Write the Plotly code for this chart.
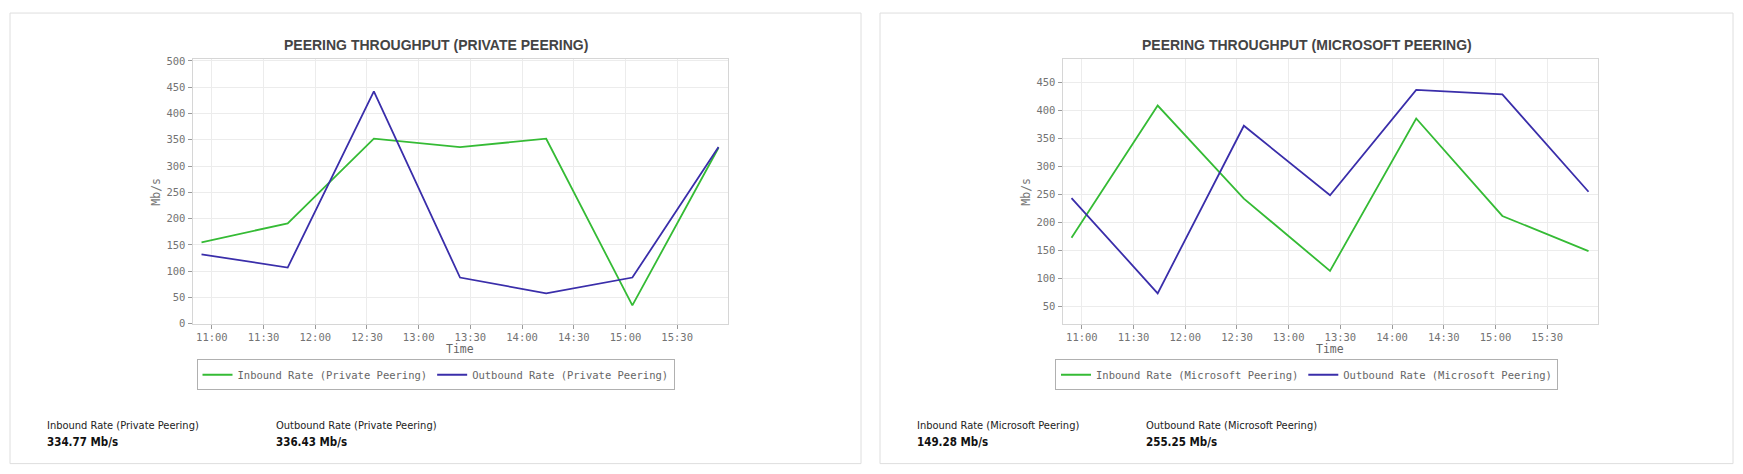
import plotly.graph_objects as go

# ---------------- data ----------------
times = ["2024-01-01 10:54", "2024-01-01 11:44", "2024-01-01 12:34", "2024-01-01 13:24",
         "2024-01-01 14:14", "2024-01-01 15:04", "2024-01-01 15:54"]

private_inbound = [155, 191, 352, 336, 352, 35, 334.77]
private_outbound = [132, 107, 442, 88, 58, 88, 336.43]

microsoft_inbound = [173, 409, 243, 114, 386, 212, 149.28]
microsoft_outbound = [244, 74, 373, 249, 437, 429, 255.25]

titles = ["PEERING THROUGHPUT (PRIVATE PEERING)", "PEERING THROUGHPUT (MICROSOFT PEERING)"]
series_names = [
    ["Inbound Rate (Private Peering)", "Outbound Rate (Private Peering)"],
    ["Inbound Rate (Microsoft Peering)", "Outbound Rate (Microsoft Peering)"],
]
current_values = [["334.77 Mb/s", "336.43 Mb/s"], ["149.28 Mb/s", "255.25 Mb/s"]]
y_ranges = [[0, 504.2], [19.6, 492.6]]
x_range = ["2024-01-01 10:48:46", "2024-01-01 15:59:40"]

# ---------------- styling ----------------
W, H = 1743, 474
GREEN = "#35bb35"
BLUE = "#3a2eaa"
MONO = "DejaVu Sans Mono"
SANS = "Liberation Sans"
NARROW = "Liberation Sans Narrow, DejaVu Sans Condensed, Arial Narrow, Liberation Sans"

# vertical calibration of the photographed page (measured from earlier renders)
Y_OFF, Y_SCALE = 4.0, 0.9755


def fx(px):
    return px / W


def fy(py):
    return 1 - ((py - Y_OFF) / Y_SCALE) / H


fig = go.Figure()

panels = [
    dict(left=10, right=861, plot_l=192.5, plot_r=728.3, xa="x", ya="y", lg="legend",
         ins=private_inbound, outs=private_outbound),
    dict(left=880, right=1733, plot_l=1062.5, plot_r=1598.3, xa="x2", ya="y2", lg="legend2",
         ins=microsoft_inbound, outs=microsoft_outbound),
]

plot_top, plot_bot = 58.5, 322.7
shapes = []
annotations = []

for i, p in enumerate(panels):
    names = series_names[i]
    fig.add_trace(go.Scatter(x=times, y=p["ins"], mode="lines", name=names[0],
                             line=dict(color=GREEN, width=1.8), xaxis=p["xa"], yaxis=p["ya"],
                             legend=p["lg"]))
    fig.add_trace(go.Scatter(x=times, y=p["outs"], mode="lines", name=names[1],
                             line=dict(color=BLUE, width=1.8), xaxis=p["xa"], yaxis=p["ya"],
                             legend=p["lg"]))

    suffix = "" if i == 0 else str(i + 1)
    axis_common = dict(
        showgrid=True, gridcolor="#ececec", gridwidth=1,
        showline=True, linecolor="#d6d6d6", linewidth=1, mirror=True,
        ticks="outside", ticklen=4, tickcolor="#9a9a9a",
        tickfont=dict(family=MONO, size=10.5, color="#737373"),
        zeroline=False, fixedrange=True,
    )
    fig.update_layout({
        "xaxis" + suffix: dict(
            axis_common, type="date", range=x_range,
            domain=[fx(p["plot_l"]), fx(p["plot_r"])],
            anchor="y" + suffix, tickformat="%H:%M",
            tick0="2024-01-01 11:00", dtick=30 * 60 * 1000,
        ),
        "yaxis" + suffix: dict(
            axis_common, range=y_ranges[i], dtick=50,
            domain=[fy(plot_bot), fy(plot_top)],
            anchor="x" + suffix,
        ),
        p["lg"]: dict(
            orientation="h", x=fx((p["left"] + p["right"]) / 2), xanchor="center",
            y=fy(358), yanchor="top", bordercolor="#b0b0b0", borderwidth=1,
            font=dict(family=MONO, size=10.5, color="#666666"), bgcolor="#ffffff",
            itemwidth=30, tracegroupgap=0,
        ),
    })

    # panel border
    shapes.append(dict(type="rect", xref="paper", yref="paper",
                       x0=fx(p["left"]), x1=fx(p["right"]), y0=fy(462), y1=fy(13),
                       line=dict(color="#dedede", width=1), fillcolor="rgba(0,0,0,0)",
                       layer="below"))

    cx = (p["left"] + p["right"]) / 2
    # title
    annotations.append(dict(text="<b>" + titles[i] + "</b>", xref="paper", yref="paper",
                            x=fx(cx), y=fy(45), xanchor="center", yanchor="middle",
                            showarrow=False, font=dict(family=SANS, size=14, color="#444444")))
    # axis titles
    annotations.append(dict(text="Mb/s", xref="paper", yref="paper",
                            x=fx(p["left"] + 146), y=fy(191), xanchor="center", yanchor="middle",
                            textangle=-90, showarrow=False,
                            font=dict(family=MONO, size=11.5, color="#777777")))
    annotations.append(dict(text="Time", xref="paper", yref="paper",
                            x=fx((p["plot_l"] + p["plot_r"]) / 2), y=fy(348),
                            xanchor="center", yanchor="middle", showarrow=False,
                            font=dict(family=MONO, size=11.5, color="#666666")))
    # stats below
    for j, off in enumerate([35, 264]):
        annotations.append(dict(text=names[j], xref="paper", yref="paper",
                                x=fx(p["left"] + off), y=fy(424), xanchor="left", yanchor="middle",
                                showarrow=False,
                                font=dict(family=NARROW, size=11, color="#222222")))
        annotations.append(dict(text="<b>" + current_values[i][j] + "</b>", xref="paper",
                                yref="paper", x=fx(p["left"] + off), y=fy(440),
                                xanchor="left", yanchor="middle", showarrow=False,
                                font=dict(family=NARROW, size=11.5, color="#111111")))

fig.update_layout(
    width=W, height=H, margin=dict(l=0, r=0, t=0, b=0),
    paper_bgcolor="#ffffff", plot_bgcolor="#ffffff",
    shapes=shapes, annotations=annotations,
    font=dict(family=SANS),
)

fig.write_html(
    "out.html",
    config={"displayModeBar": False},
    post_script="document.body.style.margin='0px';document.body.style.overflow='hidden';",
)
